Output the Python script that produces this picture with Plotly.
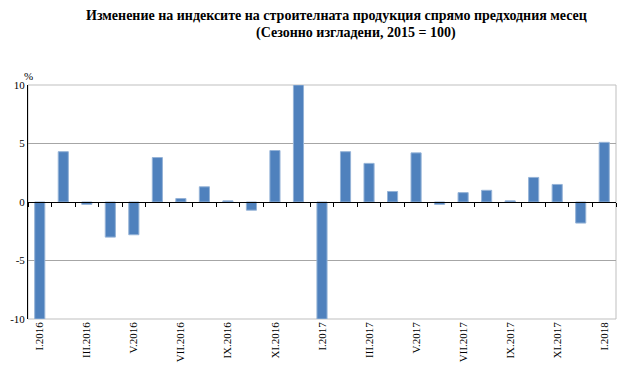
import plotly.graph_objects as go

months = ["I.2016", "II.2016", "III.2016", "IV.2016", "V.2016", "VI.2016", "VII.2016",
          "VIII.2016", "IX.2016", "X.2016", "XI.2016", "XII.2016",
          "I.2017", "II.2017", "III.2017", "IV.2017", "V.2017", "VI.2017", "VII.2017",
          "VIII.2017", "IX.2017", "X.2017", "XI.2017", "XII.2017", "I.2018"]
values = [-10.0, 4.3, -0.2, -3.0, -2.8, 3.8, 0.3, 1.3, 0.1, -0.7, 4.4, 10.0,
          -10.0, 4.3, 3.3, 0.9, 4.2, -0.2, 0.8, 1.0, 0.1, 2.1, 1.5, -1.8, 5.1]
tick_labels = months[::2]
y_ticks = [-10, -5, 0, 5, 10]

title_line1 = "Изменение на индексите на строителната продукция спрямо предходния месец"
title_line2 = "(Сезонно изгладени, 2015 = 100)"

FONT = "Liberation Serif, Times New Roman, serif"

fig = go.Figure()
fig.add_trace(go.Bar(
    x=months, y=values,
    marker=dict(color="#4F81BD", line=dict(color="#95B3D7", width=1)),
    xaxis="x", yaxis="y", showlegend=False, hoverinfo="x+y",
))
# invisible trace for the zero-line axis with boundary ticks
fig.add_trace(go.Scatter(
    x=months, y=[0] * len(months), mode="markers",
    marker=dict(opacity=0), xaxis="x2", yaxis="y", showlegend=False, hoverinfo="skip",
))

# page body has an 8px margin, so the figure is laid out 8px smaller/shifted
fig.update_layout(
    width=622, height=361,
    margin=dict(l=20, r=14, t=77, b=50),
    paper_bgcolor="white", plot_bgcolor="white",
    bargap=0.57,
    font=dict(family=FONT, size=11, color="black"),
    xaxis=dict(
        type="category", categoryorder="array", categoryarray=months,
        tickmode="array", tickvals=tick_labels, ticktext=tick_labels,
        tickangle=-90, showgrid=False, showline=False, ticks="",
        zeroline=False, automargin=False,
        tickfont=dict(family=FONT, size=11, color="black"),
        range=[-0.5, len(months) - 0.5],
    ),
    xaxis2=dict(
        type="category", categoryorder="array", categoryarray=months,
        overlaying="x", matches="x", anchor="free", position=0.5,
        showline=True, linecolor="black", linewidth=1, automargin=False,
        ticks="outside", tickson="boundaries", ticklen=4, tickcolor="black",
        showticklabels=False, showgrid=False, zeroline=False,
    ),
    yaxis=dict(
        range=[-10, 10], tickmode="array", tickvals=y_ticks,
        ticktext=[str(v) for v in y_ticks], automargin=False,
        showgrid=True, gridcolor="#A6A6A6", gridwidth=1,
        zeroline=False, showline=True, linecolor="black", linewidth=1,
        ticks="", ticklen=0,
        tickfont=dict(family=FONT, size=11, color="black"),
    ),
    shapes=[dict(type="rect", xref="paper", yref="paper", x0=0, x1=1, y0=0, y1=1,
                 line=dict(color="#BFBFBF", width=1), layer="below")],
    annotations=[
        dict(text="<b>" + title_line1 + "</b>", xref="paper", yref="paper",
             x=(336 - 28) / 588, y=1, yshift=61, xanchor="center", yanchor="bottom",
             borderpad=0, showarrow=False, font=dict(family=FONT, size=14, color="black")),
        dict(text="<b>" + title_line2 + "</b>", xref="paper", yref="paper",
             x=(356 - 28) / 588, y=1, yshift=61, xanchor="center", yanchor="top",
             borderpad=0, showarrow=False, font=dict(family=FONT, size=14, color="black")),
        dict(text="%", xref="paper", yref="paper", x=0, y=1, yshift=9,
             xanchor="center", yanchor="middle", showarrow=False,
             font=dict(family=FONT, size=11, color="black")),
    ],
)

fig.write_html("out.html")
